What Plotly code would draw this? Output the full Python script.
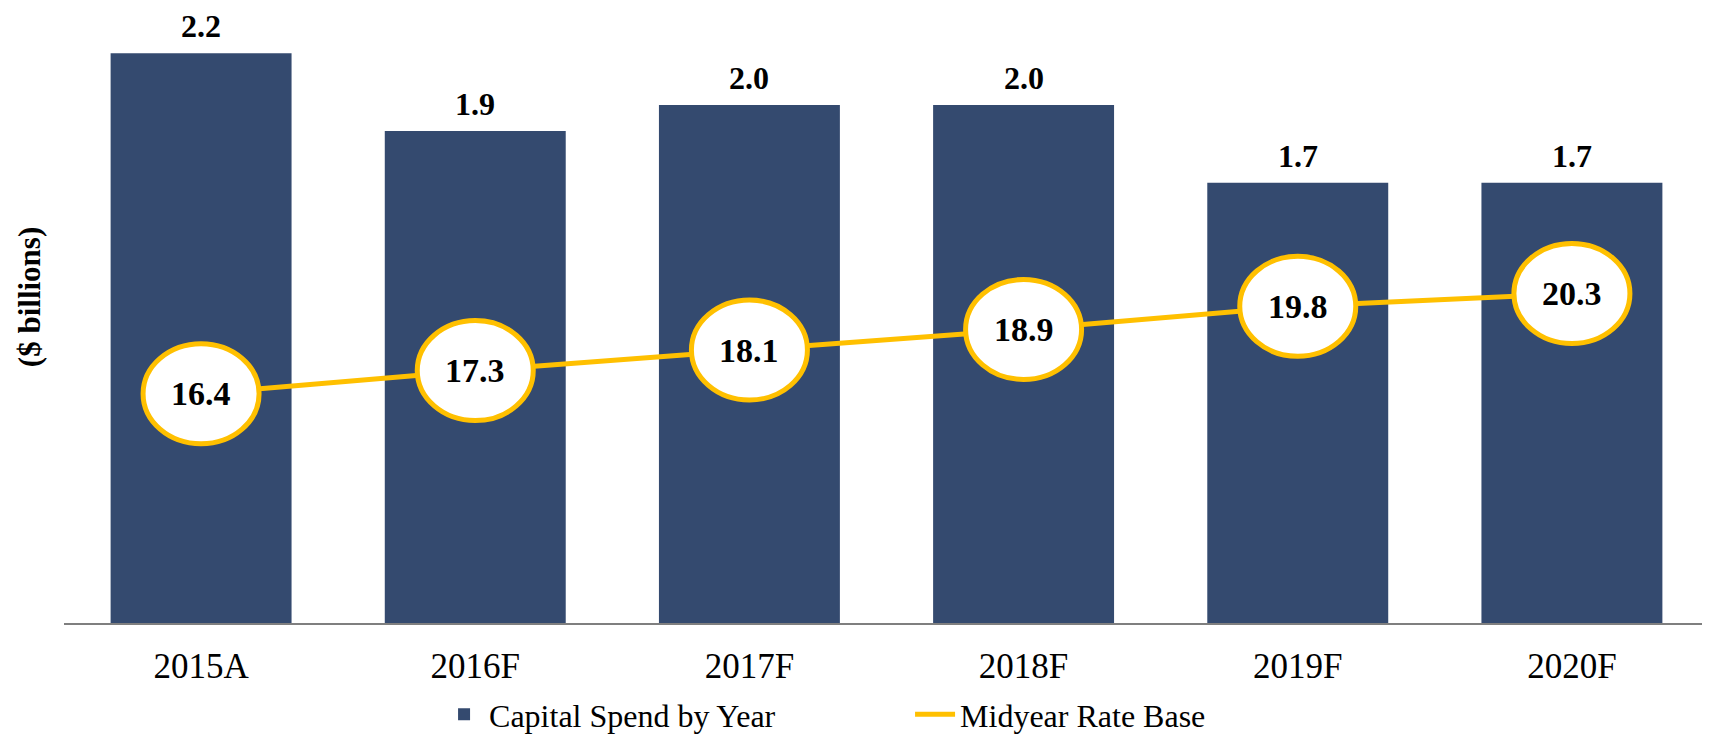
import plotly.graph_objects as go

years = ["2015A", "2016F", "2017F", "2018F", "2019F", "2020F"]
capital_spend = [2.2, 1.9, 2.0, 2.0, 1.7, 1.7]
rate_base = [16.4, 17.3, 18.1, 18.9, 19.8, 20.3]

BAR = "#344A6F"
GOLD = "#FFC000"
SERIF = "Liberation Serif, Times New Roman, serif"

fig = go.Figure()
fig.add_trace(go.Bar(
    x=years, y=capital_spend, name="Capital Spend by Year",
    marker=dict(color=BAR, line=dict(width=0)),
    hoverinfo="skip",
))
fig.add_trace(go.Scatter(
    x=years, y=rate_base, name="Midyear Rate Base", yaxis="y2",
    mode="lines", line=dict(color=GOLD, width=5),
    hoverinfo="skip",
))

shapes = []
annotations = []
for i, (yr, v) in enumerate(zip(years, capital_spend)):
    annotations.append(dict(
        x=yr, y=v, xref="x", yref="y", text=f"<b>{v:.1f}</b>",
        showarrow=False, yanchor="bottom", yshift=7,
        font=dict(family=SERIF, size=32, color="black"),
    ))
for i, (yr, v) in enumerate(zip(years, rate_base)):
    shapes.append(dict(
        type="circle", xref="x", yref="y2",
        xsizemode="pixel", ysizemode="pixel",
        xanchor=i, yanchor=v,
        x0=-58, x1=58, y0=-50, y1=50,
        fillcolor="white", line=dict(color=GOLD, width=5),
        layer="above",
    ))
    annotations.append(dict(
        x=yr, y=v, xref="x", yref="y2", text=f"<b>{v:.1f}</b>",
        showarrow=False, yanchor="middle",
        font=dict(family=SERIF, size=34, color="black"),
    ))

annotations.append(dict(
    x=-0.0205, y=0.532, xref="paper", yref="paper", xanchor="center", yanchor="middle",
    text="<b>($ billions)</b>", textangle=-90, showarrow=False,
    font=dict(family=SERIF, size=31, color="black"),
))

fig.update_layout(
    width=1702, height=726,
    margin=dict(l=56, r=1, t=2, b=111, autoexpand=False),
    paper_bgcolor="white", plot_bgcolor="white",
    bargap=0.34,
    showlegend=True,
    legend=dict(
        orientation="h", x=0.228, xanchor="left", y=-0.149, yanchor="middle",
        font=dict(family=SERIF, size=32, color="black"),
        itemwidth=40, entrywidth=416,
    ),
    xaxis=dict(
        type="category", showline=True, linecolor="#7F7F7F", linewidth=2,
        showgrid=False, ticks="", ticklabelstandoff=11,
        tickfont=dict(family=SERIF, size=35, color="black"),
    ),
    yaxis=dict(range=[0, 2.367], visible=False, showgrid=False, zeroline=False),
    yaxis2=dict(range=[7.48, 31.33], overlaying="y", side="right",
                visible=False, showgrid=False, zeroline=False),
    shapes=shapes,
    annotations=annotations,
)

fig.write_html("out.html")
